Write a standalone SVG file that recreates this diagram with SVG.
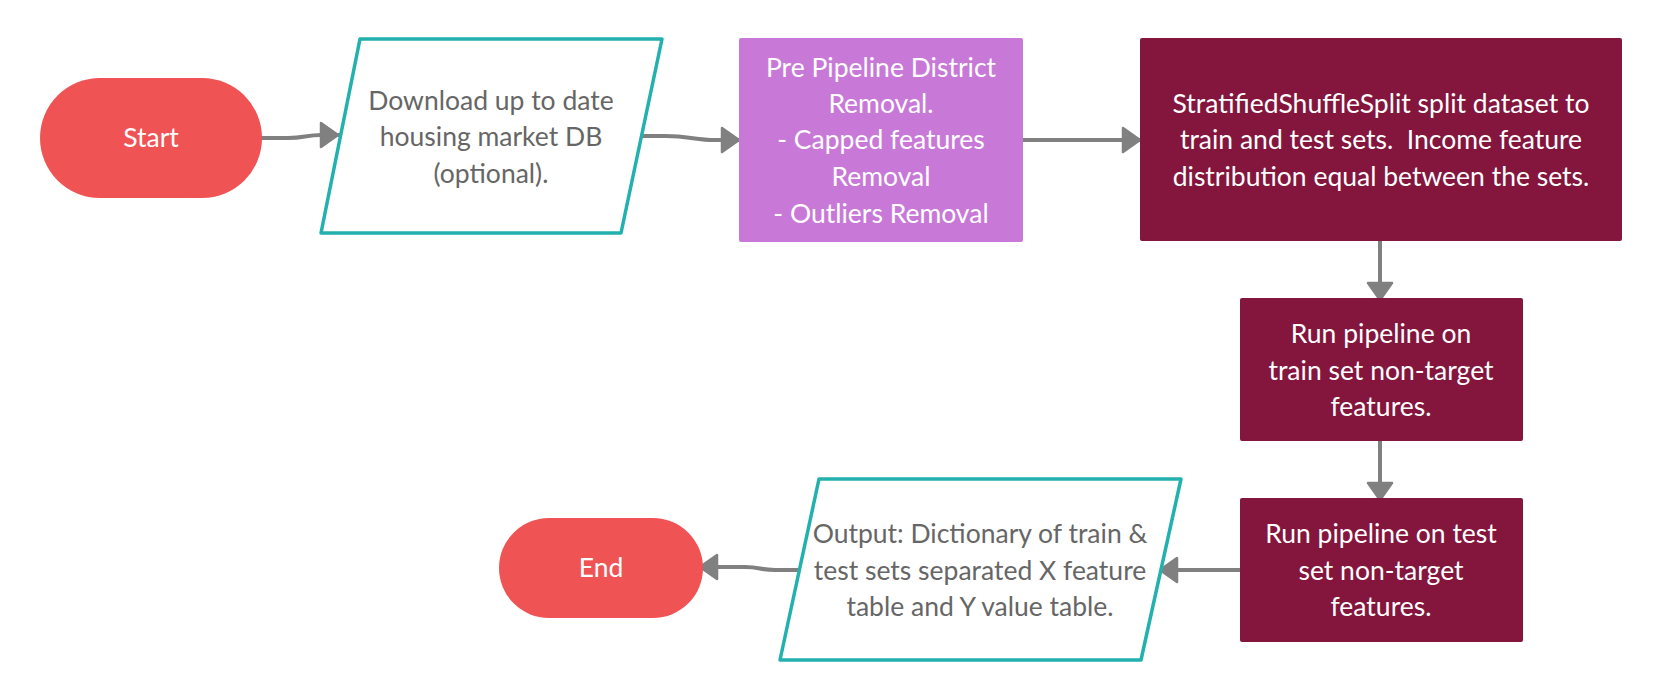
<svg xmlns="http://www.w3.org/2000/svg" width="1660" height="700" viewBox="0 0 1660 700">
<style>
.t{font-family:Lato,"Open Sans","Liberation Sans",sans-serif;font-size:26.5px;text-anchor:middle;white-space:pre}
.w{fill:#ffffff}
.g{fill:#666666}
.term{fill:#F05353}
.io{fill:#ffffff;stroke:#22B1AE;stroke-width:3.5;stroke-linejoin:round}
.proc{fill:#84153C}
.pre{fill:#C879D8}
.c{fill:none;stroke:#808080;stroke-width:4;stroke-linecap:round}
</style>
<defs>
<marker id="ah" markerUnits="userSpaceOnUse" markerWidth="22" markerHeight="28" refX="19" refY="13" orient="auto" viewBox="-1 -1 22 28">
<path d="M1,1 L18,13 L1,25 Z" fill="#808080" stroke="#808080" stroke-width="2.5" stroke-linejoin="round"/>
</marker>
</defs>
<rect width="1660" height="700" fill="#ffffff"/>
<g id="connectors">
<path class="c" marker-end="url(#ah)" d="M260,138 L288,138 C305,138 305,135 322,135 L339,135"/>
<path class="c" marker-end="url(#ah)" d="M638,136 L665,136 C690,136 695,140 715,140 L740,140"/>
<path class="c" marker-end="url(#ah)" d="M1022,140 L1141,140"/>
<path class="c" marker-end="url(#ah)" d="M1380,241 L1380,301"/>
<path class="c" marker-end="url(#ah)" d="M1380,441 L1380,501"/>
<path class="c" marker-end="url(#ah)" d="M1240,570 L1159,570"/>
<path class="c" marker-end="url(#ah)" d="M800,570 L775,570 C760,570 760,567 745,567 L699,567"/>
</g>
<g id="start">
<rect class="term" x="40" y="78" width="222" height="120" rx="60" ry="60"/>
<text class="t w" x="151" y="147">Start</text>
</g>
<g id="download">
<polygon class="io" points="360,39 662,39 621,233 321,233"/>
<text class="t g" x="491" y="110">Download up to date</text>
<text class="t g" x="491" y="146">housing market DB</text>
<text class="t g" x="491" y="183">(optional).</text>
</g>
<g id="prepipeline">
<rect class="pre" x="739" y="38" width="284" height="204" rx="2"/>
<text class="t w" x="881" y="77">Pre Pipeline District</text>
<text class="t w" x="881" y="113">Removal.</text>
<text class="t w" x="881" y="149">- Capped features</text>
<text class="t w" x="881" y="186">Removal</text>
<text class="t w" x="881" y="223">- Outliers Removal</text>
</g>
<g id="split">
<rect class="proc" x="1140" y="38" width="482" height="203" rx="2"/>
<text class="t w" x="1381" y="113">StratifiedShuffleSplit split dataset to</text>
<text class="t w" x="1381" y="149">train and test sets.  Income feature</text>
<text class="t w" x="1381" y="186">distribution equal between the sets.</text>
</g>
<g id="train">
<rect class="proc" x="1240" y="298" width="283" height="143" rx="2"/>
<text class="t w" x="1381" y="343">Run pipeline on</text>
<text class="t w" x="1381" y="380">train set non-target</text>
<text class="t w" x="1381" y="416">features.</text>
</g>
<g id="test">
<rect class="proc" x="1240" y="498" width="283" height="144" rx="2"/>
<text class="t w" x="1381" y="543">Run pipeline on test</text>
<text class="t w" x="1381" y="580">set non-target</text>
<text class="t w" x="1381" y="616">features.</text>
</g>
<g id="output">
<polygon class="io" points="819,479 1181,479 1141,660 780,660"/>
<text class="t g" x="980" y="543">Output: Dictionary of train &amp;</text>
<text class="t g" x="980" y="580">test sets separated X feature</text>
<text class="t g" x="980" y="616">table and Y value table.</text>
</g>
<g id="end">
<rect class="term" x="499" y="518" width="204" height="100" rx="50" ry="50"/>
<text class="t w" x="601" y="577">End</text>
</g>
</svg>
